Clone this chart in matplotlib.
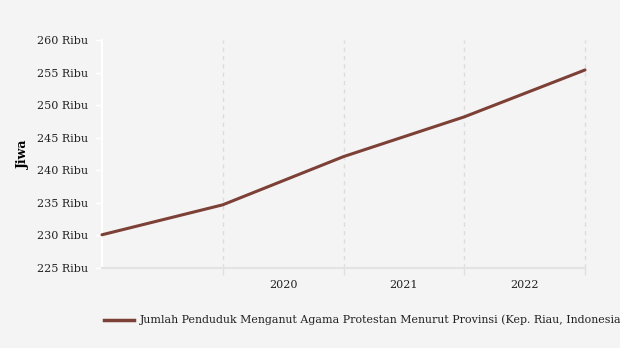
import matplotlib.pyplot as plt
from matplotlib.lines import Line2D

# data (values in ribu jiwa)
x_pos = [0, 1, 2, 3, 4]
values = [230.1, 234.7, 242.1, 248.2, 255.4]
year_labels = ['2020', '2021', '2022']
year_pos = [1.5, 2.5, 3.5]
y_ticks = [225, 230, 235, 240, 245, 250, 255, 260]
series_name = 'Jumlah Penduduk Menganut Agama Protestan Menurut Provinsi (Kep. Riau, Indonesia)'

bg = '#f4f4f4'
line_color = '#7d4036'
plt.rcParams['font.family'] = ['DejaVu Serif']

fig = plt.figure(figsize=(6.2, 3.48), dpi=100, facecolor=bg)
ax = fig.add_axes([102 / 620, 1 - 268 / 348, 483 / 620, 228 / 348])
ax.set_facecolor(bg)

ax.plot(x_pos, values, color=line_color, linewidth=2.2, solid_capstyle='round', clip_on=False, zorder=3)

ax.set_xlim(0, 4)
ax.set_ylim(225, 260)

# vertical dashed grid at the year boundaries
ax.set_xticks([1, 2, 3, 4])
ax.set_xticklabels([])
ax.tick_params(axis='x', which='major', length=5, color='#e0e0e0', width=1)
ax.set_xticks(year_pos, minor=True)
ax.set_xticklabels(year_labels, minor=True, fontsize=8, color='#222222')
ax.tick_params(axis='x', which='minor', length=0, pad=9)
ax.grid(axis='x', which='major', color='#dcdcdc', linestyle=(0, (3, 3)), linewidth=1)
for gl in ax.get_xgridlines():
    gl.set_clip_on(False)

ax.set_yticks(y_ticks)
ax.set_yticklabels([f'{v} Ribu' for v in y_ticks], fontsize=8, color='#222222')
ax.tick_params(axis='y', length=5, color='white', width=1, pad=5)

for side in ['top', 'right']:
    ax.spines[side].set_visible(False)
ax.spines['left'].set_color('white')
ax.spines['left'].set_linewidth(1.5)
ax.spines['bottom'].set_color('#e3e3e3')
ax.spines['bottom'].set_linewidth(1.5)

ax.set_ylabel('Jiwa', fontsize=9, fontweight='bold', labelpad=5)

# legend drawn by hand so it runs off the right edge like the original
fig.add_artist(Line2D([104 / 620, 134 / 620], [1 - 320 / 348] * 2, color=line_color, linewidth=2.5))
fig.text(140 / 620, 1 - 320 / 348, series_name, fontsize=7.9, va='center', ha='left', color='#222222')

fig.savefig('out.png', dpi=100, facecolor=bg)
